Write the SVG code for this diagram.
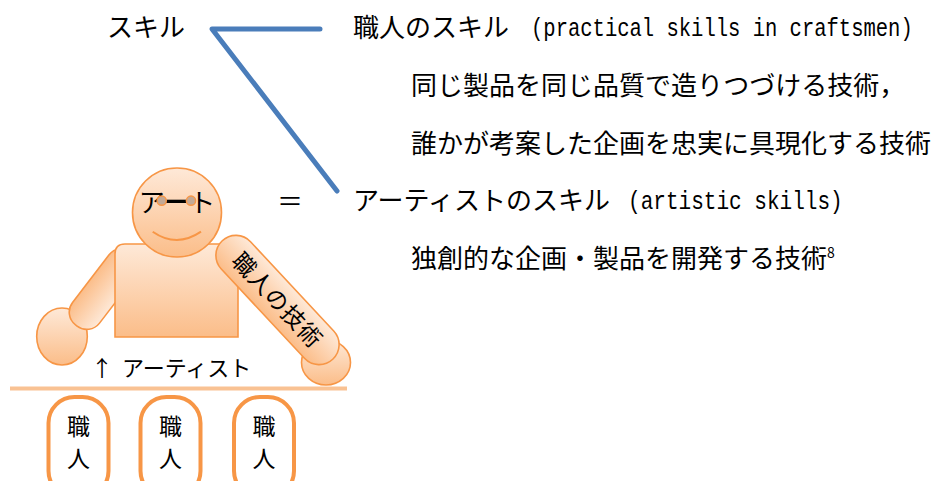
<svg xmlns="http://www.w3.org/2000/svg" width="940" height="481" viewBox="0 0 940 481">
  <defs>
    <linearGradient id="peach" x1="0" y1="0" x2="0" y2="1">
      <stop offset="0" stop-color="#fee9d8"/>
      <stop offset="1" stop-color="#fbbd89"/>
    </linearGradient>
    <style>
      .jp { font-family: "Noto Sans CJK JP", "Noto Sans", sans-serif; fill: #000; }
      .main { font-size: 26px; }
      .mono { font-family: "Liberation Mono", "DejaVu Sans Mono", monospace; font-size: 26px; fill: #000; }
      .figure { fill: url(#peach); stroke: #f79646; stroke-width: 1.6; }
      .label { font-size: 22px; }
      .boxtext { font-size: 23px; }
      .box { fill: #fff; stroke: #f79646; stroke-width: 4; }
      .link { fill: none; stroke: #4a7dba; stroke-width: 5; stroke-linecap: round; stroke-linejoin: round; }
    </style>
  </defs>

  <!-- branch connector from スキル to the two kinds of skill -->
  <g id="connectors">
    <polyline class="link" points="320,29 212,29 337,191"/>
  </g>

  <g id="skill">
    <text class="jp main" x="107" y="37">スキル</text>
  </g>

  <g id="craft-skill">
    <text class="jp main" x="353" y="37">職人のスキル</text>
    <!-- narrow monospace: Liberation Mono squeezed horizontally -->
    <text class="mono" transform="translate(531,36) scale(0.79,1)">(practical skills in craftsmen)</text>
    <text class="jp main" x="411" y="95">同じ製品を同じ品質で造りつづける技術，</text>
    <text class="jp main" x="411" y="153">誰かが考案した企画を忠実に具現化する技術</text>
  </g>

  <g id="artist-skill">
    <text class="jp main" x="353" y="210">アーティストのスキル</text>
    <text class="mono" transform="translate(628,209) scale(0.81,1)">(artistic skills)</text>
    <text class="jp main" x="411" y="268">独創的な企画・製品を開発する技術<tspan font-size="14" dy="-10">8</tspan></text>
  </g>

  <g id="equals">
    <text class="jp main" x="290" y="211" text-anchor="middle">＝</text>
  </g>

  <!-- the artist figure -->
  <g id="artist">
    <ellipse class="figure" cx="62" cy="336.5" rx="25.3" ry="28.5"/>
    <rect class="figure" x="-12" y="-17" width="92" height="34" rx="16" transform="translate(125,262) rotate(127.5)"/>
    <path class="figure" d="M115,337 V254 Q115,244 125,244 H228 Q238,244 238,254 V337 Z"/>
    <circle class="figure" cx="177" cy="212.5" r="44.5"/>
    <text class="jp main" x="177" y="212" text-anchor="middle">アート</text>
    <!-- eyes joined by a bar -->
    <line x1="162" y1="200.7" x2="191" y2="200.7" stroke="#000" stroke-width="2"/>
    <circle cx="161.7" cy="200.7" r="4.6" fill="#c4a995" stroke="#f79646" stroke-width="1.5"/>
    <circle cx="191" cy="200.7" r="4.6" fill="#c4a995" stroke="#f79646" stroke-width="1.5"/>
    <path d="M152.7,231.7 Q176.7,248.3 201,231.7" fill="none" stroke="#f79646" stroke-width="2"/>
    <ellipse class="figure" cx="326" cy="362.5" rx="24.5" ry="22.5"/>
    <g transform="translate(277.5,300) rotate(47)">
      <rect class="figure" x="-81" y="-20" width="162" height="40" rx="20"/>
      <text class="jp" x="0" y="8.5" font-size="23" letter-spacing="1" text-anchor="middle">職人の技術</text>
    </g>
  </g>

  <g id="artist-label">
    <text class="jp label" x="102" y="376" text-anchor="middle">↑</text>
    <text class="jp label" x="122" y="376">アーティスト</text>
  </g>

  <g id="base-line">
    <line x1="10" y1="388.5" x2="347" y2="388.5" stroke="#f9c293" stroke-width="4"/>
  </g>

  <g id="craftsman-1">
    <rect class="box" x="48.5" y="397" width="60" height="100" rx="26"/>
    <text class="jp boxtext" x="78.5" y="434.5" text-anchor="middle">職</text>
    <text class="jp boxtext" x="78.5" y="466.5" text-anchor="middle">人</text>
  </g>
  <g id="craftsman-2">
    <rect class="box" x="140.5" y="397" width="60" height="100" rx="26"/>
    <text class="jp boxtext" x="170.5" y="434.5" text-anchor="middle">職</text>
    <text class="jp boxtext" x="170.5" y="466.5" text-anchor="middle">人</text>
  </g>
  <g id="craftsman-3">
    <rect class="box" x="234" y="397" width="60" height="100" rx="26"/>
    <text class="jp boxtext" x="264" y="434.5" text-anchor="middle">職</text>
    <text class="jp boxtext" x="264" y="466.5" text-anchor="middle">人</text>
  </g>
</svg>
